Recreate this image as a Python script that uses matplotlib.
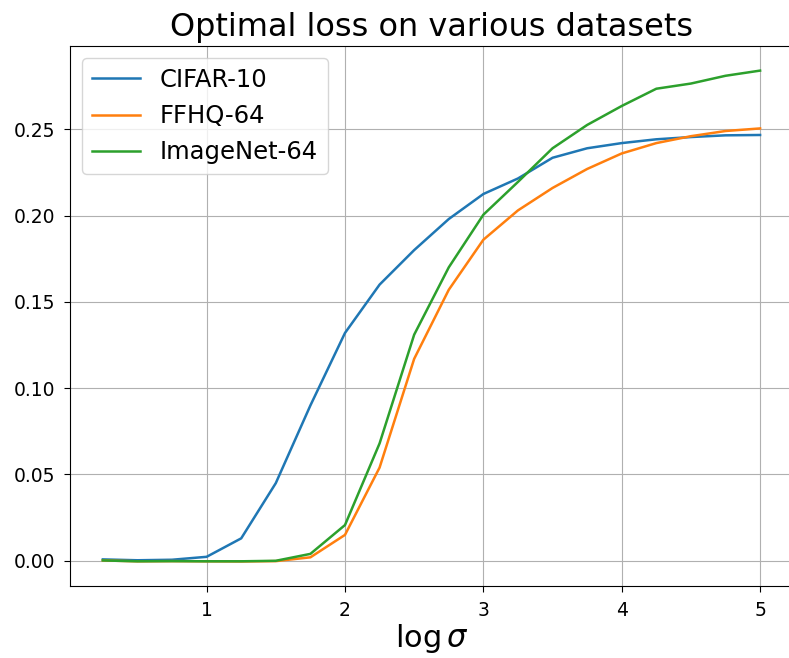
import numpy as np
import matplotlib
matplotlib.use("Agg")
import matplotlib.pyplot as plt

# log sigma grid
log_sigma = [0.25, 0.5, 0.75, 1.0, 1.25, 1.5, 1.75, 2.0, 2.25, 2.5,
             2.75, 3.0, 3.25, 3.5, 3.75, 4.0, 4.25, 4.5, 4.75, 5.0]

# optimal loss per dataset
cifar10 = [0.0008, 0.0003, 0.0006, 0.0023, 0.013, 0.045, 0.090, 0.132, 0.160, 0.180,
           0.198, 0.2125, 0.2215, 0.2335, 0.239, 0.242, 0.2442, 0.2455, 0.2465, 0.2467]
ffhq64 = [0.0002, -0.0003, -0.0002, -0.0003, -0.0004, -0.0002, 0.002, 0.015, 0.054, 0.117,
          0.157, 0.186, 0.203, 0.216, 0.227, 0.236, 0.242, 0.246, 0.249, 0.2505]
imagenet64 = [0.0002, -0.0003, -0.0002, -0.0003, -0.0003, 0.0, 0.004, 0.0207, 0.068, 0.131,
              0.170, 0.2005, 0.2195, 0.239, 0.2525, 0.2635, 0.2735, 0.2765, 0.281, 0.284]

labels = ["CIFAR-10", "FFHQ-64", "ImageNet-64"]

fig = plt.figure(figsize=(7.89, 6.58), dpi=100)
ax = fig.add_axes([0.0887, 0.1094, 0.9163, 0.8206])

for ys, lab in zip([cifar10, ffhq64, imagenet64], labels):
    ax.plot(log_sigma, ys, label=lab, lw=1.8)

ax.set_title("Optimal loss on various datasets", fontsize=23, pad=7)
ax.set_xlabel(r"$\log\sigma$", fontsize=22, labelpad=2)
ax.tick_params(labelsize=13.5, length=4.5, pad=6)
ax.set_xticks([1, 2, 3, 4, 5])
ax.grid(True)
ax.legend(loc="upper left", fontsize=17.5)

fig.savefig("out.png", dpi=100)
